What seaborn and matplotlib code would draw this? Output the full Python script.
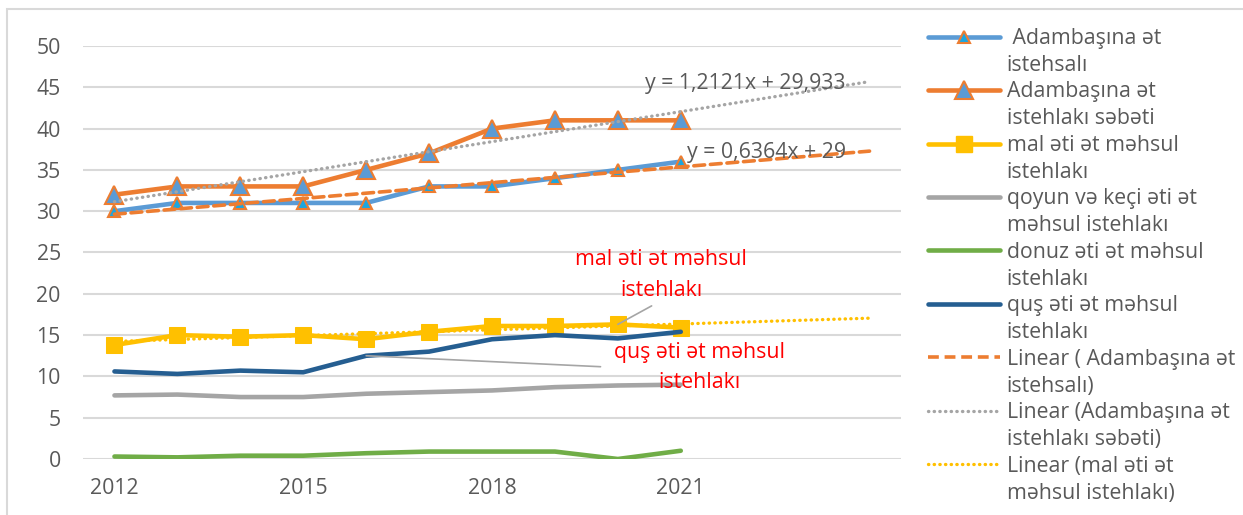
import numpy as np
import pandas as pd
import seaborn as sns
import matplotlib
matplotlib.use("Agg")
from matplotlib import pyplot as plt
from matplotlib.lines import Line2D
from matplotlib.patches import Rectangle

# data (per capita, kg)
years = [2012, 2013, 2014, 2015, 2016, 2017, 2018, 2019, 2020, 2021]
istehsal = [30, 31, 31, 31, 31, 33, 33, 34, 35, 36]
sebet = [32, 33, 33, 33, 35, 37, 40, 41, 41, 41]
mal = [13.8, 15.0, 14.8, 15.0, 14.5, 15.4, 16.1, 16.1, 16.3, 15.9]
qoyun = [7.7, 7.8, 7.5, 7.5, 7.9, 8.1, 8.3, 8.7, 8.9, 9.0]
donuz = [0.3, 0.2, 0.4, 0.4, 0.7, 0.9, 0.9, 0.9, 0.0, 1.0]
qus = [10.6, 10.3, 10.7, 10.5, 12.5, 13.0, 14.5, 15.0, 14.6, 15.4]
year_ticks = [2012, 2015, 2018, 2021]
forward = 3  # trendline forecast periods

idx = np.arange(1, len(years) + 1)
df = pd.DataFrame({"x": idx, "istehsal": istehsal, "sebet": sebet, "mal": mal,
                   "qoyun": qoyun, "donuz": donuz, "qus": qus})

sns.set_style("white")
plt.rcParams["font.family"] = ["Open Sans", "DejaVu Sans"]
fs = 15.3

fig = plt.figure(figsize=(12.43, 5.15), dpi=100)
ax = fig.add_axes([83 / 1243, 1 - 459 / 515, (901 - 83) / 1243, (459 - 46) / 515])

blue = "#5B9BD5"
orange = "#ED7D31"
gray = "#A5A5A5"
yellow = "#FFC000"
green = "#70AD47"
navy = "#255E91"
lw = 3.3

sns.lineplot(data=df, x="x", y="istehsal", ax=ax, color=blue, lw=lw, marker="^",
             markersize=8.5, markerfacecolor="#1BA6E0", markeredgecolor=orange, markeredgewidth=1.5, zorder=3)
sns.lineplot(data=df, x="x", y="sebet", ax=ax, color=orange, lw=lw, marker="^",
             markersize=12.5, markerfacecolor=blue, markeredgecolor=orange, markeredgewidth=1.5, zorder=3)
sns.lineplot(data=df, x="x", y="mal", ax=ax, color=yellow, lw=lw, marker="s",
             markersize=12, markerfacecolor=yellow, markeredgecolor=yellow, zorder=3)
sns.lineplot(data=df, x="x", y="qoyun", ax=ax, color=gray, lw=lw, zorder=3)
sns.lineplot(data=df, x="x", y="donuz", ax=ax, color=green, lw=lw, zorder=3)
sns.lineplot(data=df, x="x", y="qus", ax=ax, color=navy, lw=lw, zorder=3)

# linear trendlines, fitted on the data and extended forward
xt = np.arange(1, len(years) + forward + 1)
for col, c, ls in [("istehsal", orange, (0, (3, 1.6))), ("sebet", gray, (0, (0.1, 1.6))),
                   ("mal", yellow, (0, (0.1, 1.6)))]:
    k, b = np.polyfit(df["x"], df[col], 1)
    tr = pd.DataFrame({"x": xt, "y": k * xt + b})
    line_w = 2.6 if col == "istehsal" else 2.4
    sns.lineplot(data=tr, x="x", y="y", ax=ax, color=c, lw=line_w, zorder=4)
    ax.lines[-1].set_linestyle(ls)
    ax.lines[-1].set_dash_capstyle("round")

eq_color = "#595959"
ax.text(12.62, 45.5, "y = 1,2121x + 29,933", ha="right", va="center", fontsize=fs, color=eq_color, zorder=5)
ax.text(12.62, 37.1, "y = 0,6364x + 29", ha="right", va="center", fontsize=fs, color=eq_color, zorder=5)

ax.annotate("mal əti ət məhsul\nistehlakı", xy=(9, mal[8]), xytext=(9.69, 22.3), textcoords="data",
            ha="center", va="center", fontsize=fs, color="red", linespacing=1.6,
            arrowprops=dict(arrowstyle="-", color=gray, lw=1.2, relpos=(0.5, 0), shrinkA=3, shrinkB=0), zorder=5)
ax.annotate("quş əti ət məhsul\nistehlakı", xy=(5, qus[4]), xytext=(10.29, 11.1), textcoords="data",
            ha="center", va="center", fontsize=fs, color="red", linespacing=1.6,
            arrowprops=dict(arrowstyle="-", color=gray, lw=1.2, relpos=(0, 0.5), shrinkA=7, shrinkB=0), zorder=5)

ax.set_xlim(0.5, len(years) + forward + 0.5)
ax.set_ylim(0, 50)
ax.set_yticks(range(0, 51, 5))
ax.set_xticks([idx[years.index(y)] for y in year_ticks])
ax.set_xticklabels([str(y) for y in year_ticks])
ax.set_xlabel("")
ax.set_ylabel("")
ax.grid(axis="y", color="#D9D9D9", lw=1.5)
ax.set_axisbelow(True)
sns.despine(ax=ax, left=True, bottom=True)
ax.tick_params(axis="both", length=0, labelsize=fs, colors="#595959")
ax.tick_params(axis="x", pad=14)
ax.tick_params(axis="y", pad=16)

# legend: each label wrapped on two rows, handle on the first row
blank = Line2D([], [], color="none")
entries = [
    (Line2D([], [], color=blue, lw=lw, marker="^", markersize=8.5, markerfacecolor="#1BA6E0",
            markeredgecolor=orange, markeredgewidth=1.5), " Adambaşına ət", "istehsalı"),
    (Line2D([], [], color=orange, lw=lw, marker="^", markersize=12.5, markerfacecolor=blue,
            markeredgecolor=orange, markeredgewidth=1.5), "Adambaşına ət", "istehlakı səbəti"),
    (Line2D([], [], color=yellow, lw=lw, marker="s", markersize=12), "mal əti ət məhsul", "istehlakı"),
    (Line2D([], [], color=gray, lw=lw), "qoyun və keçi əti ət", "məhsul istehlakı"),
    (Line2D([], [], color=green, lw=lw), "donuz əti ət məhsul", "istehlakı"),
    (Line2D([], [], color=navy, lw=lw), "quş əti ət məhsul", "istehlakı"),
    (Line2D([], [], color=orange, lw=2.6, ls=(0, (3, 1.6))), "Linear ( Adambaşına ət", "istehsalı)"),
    (Line2D([], [], color=gray, lw=2.4, ls=(0, (0.1, 1.6)), dash_capstyle="round"), "Linear (Adambaşına ət", "istehlakı səbəti)"),
    (Line2D([], [], color=yellow, lw=2.4, ls=(0, (0.1, 1.6)), dash_capstyle="round"), "Linear (mal əti ət", "məhsul istehlakı)"),
]
handles, labels = [], []
for h, l1, l2 in entries:
    handles += [h, blank]
    labels += [l1, l2]
leg = fig.legend(handles, labels, loc="upper left", bbox_to_anchor=(928 / 1243, 1 - 28 / 515),
                 frameon=False, fontsize=fs, handlelength=3.4, handletextpad=0.3,
                 labelspacing=0.27, borderaxespad=0, borderpad=0)
for t in leg.get_texts():
    t.set_color("#595959")

# chart area border
fig.patches.append(Rectangle((7 / 1243, -0.05), 1.1, 1 - 9 / 515 + 0.05, transform=fig.transFigure,
                             fill=False, edgecolor="#D9D9D9", lw=1.5))

fig.savefig("out.png", dpi=100)
